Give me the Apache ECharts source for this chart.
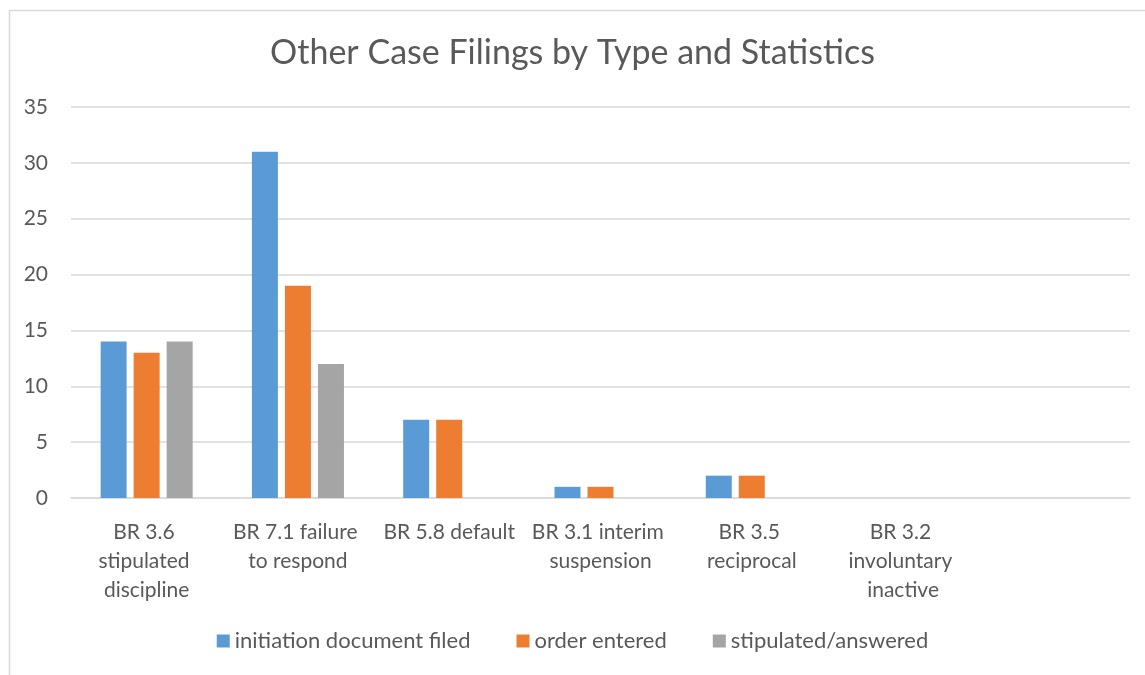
<!DOCTYPE html>
<html>
<head>
<meta charset="utf-8">
<title>Other Case Filings by Type and Statistics</title>
<script src="https://cdn.jsdelivr.net/npm/echarts@6/dist/echarts.min.js"></script>
<style>
  html, body { margin: 0; padding: 0; background: #fff; }
  #chart { width: 1145px; height: 675px; }
</style>
</head>
<body>
<div id="chart"></div>
<script>
// categories (the last slot is empty in the source chart)
const categories = [
  'BR 3.6 stipulated discipline',
  'BR 7.1 failure to respond',
  'BR 5.8 default',
  'BR 3.1 interim suspension',
  'BR 3.5 reciprocal',
  'BR 3.2 involuntary inactive',
  ''
];

const initiationFiled = [14, 31, 7, 1, 2, 0, null];
const orderEntered = [13, 19, 7, 1, 2, 0, null];
const stipulatedAnswered = [14, 12, 0, 0, 0, 0, null];

const yTicks = { min: 0, max: 35, interval: 5 };

const TEXT = '#595959';
const FONT = 'Lato';

const chart = echarts.init(document.getElementById('chart'), null, { renderer: 'canvas' });

function barSeries(name, data, color) {
  return {
    name: name,
    type: 'bar',
    data: data,
    barWidth: 26,
    barGap: '27%',
    itemStyle: { color: color },
    emphasis: { disabled: true }
  };
}

chart.setOption({
  animation: false,
  textStyle: { fontFamily: FONT, color: TEXT },
  graphic: [{
    type: 'rect',
    left: 7,
    top: 8,
    shape: { width: 1150, height: 680 },
    style: { fill: 'none', stroke: '#d9d9d9', lineWidth: 1.5 },
    silent: true
  }],
  title: {
    text: 'Other Case Filings by Type and Statistics',
    left: 'center',
    top: 31,
    textStyle: { fontFamily: FONT, fontSize: 34, fontWeight: 'normal', color: TEXT }
  },
  legend: {
    bottom: 18,
    left: 'center',
    itemWidth: 13,
    itemHeight: 13,
    itemGap: 46,
    icon: 'rect',
    textStyle: { fontFamily: FONT, fontSize: 22, color: TEXT }
  },
  grid: { left: 71, right: 15, top: 107, bottom: 177 },
  xAxis: {
    type: 'category',
    data: categories,
    axisLine: { lineStyle: { color: '#d9d9d9', width: 1.5 } },
    axisTick: { show: false },
    axisLabel: {
      interval: 0,
      margin: 20,
      width: 142,
      overflow: 'break',
      lineHeight: 29,
      fontFamily: FONT,
      fontSize: 21,
      color: TEXT
    }
  },
  yAxis: {
    type: 'value',
    min: yTicks.min,
    max: yTicks.max,
    interval: yTicks.interval,
    axisLine: { show: false },
    axisTick: { show: false },
    splitLine: { lineStyle: { color: '#d9d9d9', width: 1.5 } },
    axisLabel: { margin: 23, fontFamily: FONT, fontSize: 21, color: TEXT }
  },
  series: [
    barSeries('initiation document filed', initiationFiled, '#5b9bd5'),
    barSeries('order entered', orderEntered, '#ed7d31'),
    barSeries('stipulated/answered', stipulatedAnswered, '#a5a5a5')
  ]
});
</script>
</body>
</html>
